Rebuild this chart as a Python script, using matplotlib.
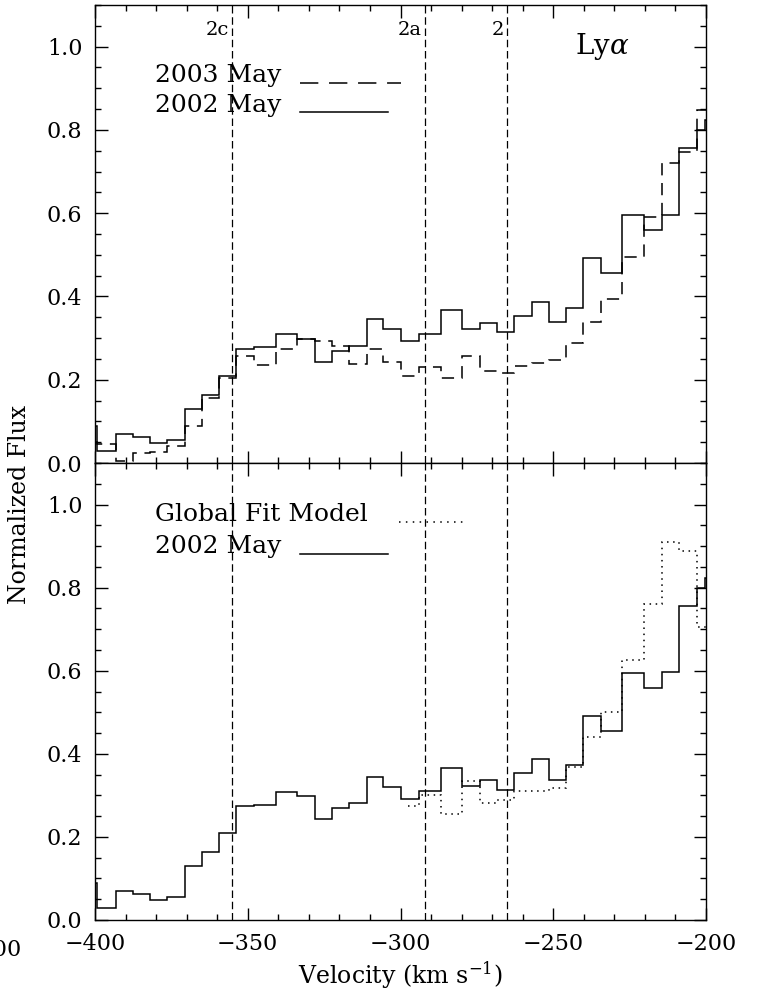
import numpy as np
import matplotlib
matplotlib.use("Agg")
import matplotlib.pyplot as plt
from matplotlib.ticker import MultipleLocator

plt.rcParams['font.family'] = 'DejaVu Serif'
plt.rcParams['mathtext.fontset'] = 'dejavuserif'

# bin edges (km/s) and fluxes
edges = [-401.0, -399.2, -393.2, -387.5, -381.9, -376.4, -370.6, -365.0, -359.3,
         -353.7, -347.8, -340.9, -333.9, -328.0, -322.3, -316.8, -311.1, -305.6,
         -299.8, -294.1, -286.8, -279.8, -274.0, -268.3, -262.7, -256.9, -251.4,
         -245.8, -240.2, -234.4, -227.4, -220.2, -214.5, -208.8, -203.0, -200.3, -198.0]

may2002 = [0.090, 0.028, 0.070, 0.063, 0.048, 0.055, 0.130, 0.163, 0.210,
           0.275, 0.278, 0.309, 0.299, 0.243, 0.269, 0.281, 0.345, 0.321,
           0.292, 0.310, 0.367, 0.323, 0.336, 0.314, 0.354, 0.387, 0.338,
           0.372, 0.492, 0.456, 0.595, 0.559, 0.596, 0.757, 0.800, 0.823]

may2003 = [0.050, 0.046, 0.005, 0.024, 0.027, 0.040, 0.090, 0.155, 0.205,
           0.258, 0.236, 0.273, 0.297, 0.293, 0.280, 0.237, 0.274, 0.242,
           0.210, 0.230, 0.203, 0.256, 0.220, 0.216, 0.234, 0.239, 0.248,
           0.288, 0.338, 0.395, 0.494, 0.592, 0.721, 0.748, 0.849, 0.849]

model_edges = [-297.5] + edges[19:]
model = [0.274, 0.301, 0.254, 0.335, 0.282, 0.290, 0.310, 0.310, 0.317,
         0.369, 0.440, 0.501, 0.627, 0.761, 0.911, 0.889, 0.705, 0.705]

comp_v = [-355, -292, -265]
comp_lab = ['2c', '2a', '2']

fig = plt.figure(figsize=(7.65, 9.9), dpi=100)
ax1 = fig.add_axes([95/765, 527/990, 611/765, 458/990])
ax2 = fig.add_axes([95/765, 70/990, 611/765, 457/990])

for ax in (ax1, ax2):
    ax.set_xlim(-400, -200)
    ax.set_ylim(0, 1.1)
    ax.xaxis.set_major_locator(MultipleLocator(50))
    ax.xaxis.set_minor_locator(MultipleLocator(10))
    ax.yaxis.set_major_locator(MultipleLocator(0.2))
    ax.yaxis.set_minor_locator(MultipleLocator(0.05))
    ax.tick_params(which='both', direction='in', top=True, right=True, width=1.0,
                   labelsize=16, pad=9)
    ax.tick_params(which='major', length=9)
    ax.tick_params(which='minor', length=4.5)
    ax.set_yticks([0, 0.2, 0.4, 0.6, 0.8, 1.0])
    ax.set_yticklabels(['0.0', '0.2', '0.4', '0.6', '0.8', '1.0'])
    for s in ax.spines.values():
        s.set_linewidth(1.0)
    for v in comp_v:
        ax.axvline(v, color='black', lw=0.9, ls=(0, (6, 3)))
    ax.stairs(may2002, edges, baseline=None, color='black', lw=1.1)

ax1.tick_params(labelbottom=False)
ax2.set_xticks([-400, -350, -300, -250, -200])
ax2.set_xticklabels(['\u2212400', '\u2212350', '\u2212300', '\u2212250', '\u2212200'])

ax1.stairs(may2003, edges, baseline=None, color='black', lw=1.1, ls=(0, (8, 5)))
ax2.stairs(model, model_edges, baseline=None, color='black', lw=1.1, ls=(0, (1, 3)))

for v, lab in zip(comp_v, comp_lab):
    ax1.text(v - 1.2, 1.04, lab, ha='right', va='center', fontsize=14)

ax1.text(-243, 1.0, r'Ly$\alpha$', ha='left', va='center', fontsize=20)

# legend texts and sample lines
ax1.text(-380.5, 0.93, '2003 May', ha='left', va='center', fontsize=18)
ax1.plot([-333, -300], [0.913, 0.913], color='black', lw=1.1, ls=(0, (12, 7)))
ax1.text(-380.5, 0.859, '2002 May', ha='left', va='center', fontsize=18)
ax1.plot([-333, -304], [0.842, 0.842], color='black', lw=1.1)

ax2.text(-380.5, 0.975, 'Global Fit Model', ha='left', va='center', fontsize=18)
ax2.plot([-300.5, -279], [0.958, 0.958], color='black', lw=1.1, ls=(0, (1, 3.5)))
ax2.text(-380.5, 0.899, '2002 May', ha='left', va='center', fontsize=18)
ax2.plot([-333, -304], [0.88, 0.88], color='black', lw=1.1)

fig.text(20/765, 1 - 505/990, 'Normalized Flux', rotation=90, ha='center', va='center',
         fontsize=17)
fig.text(400/765, 1 - 975/990, r'Velocity (km s$^{-1}$)', ha='center', va='center',
         fontsize=17)
# partial tick label of a neighbouring panel, cut by the left edge
fig.text(22/765, 1 - 950/990, '\u2212200', ha='right', va='center', fontsize=16)

fig.savefig('out.png', dpi=100)
